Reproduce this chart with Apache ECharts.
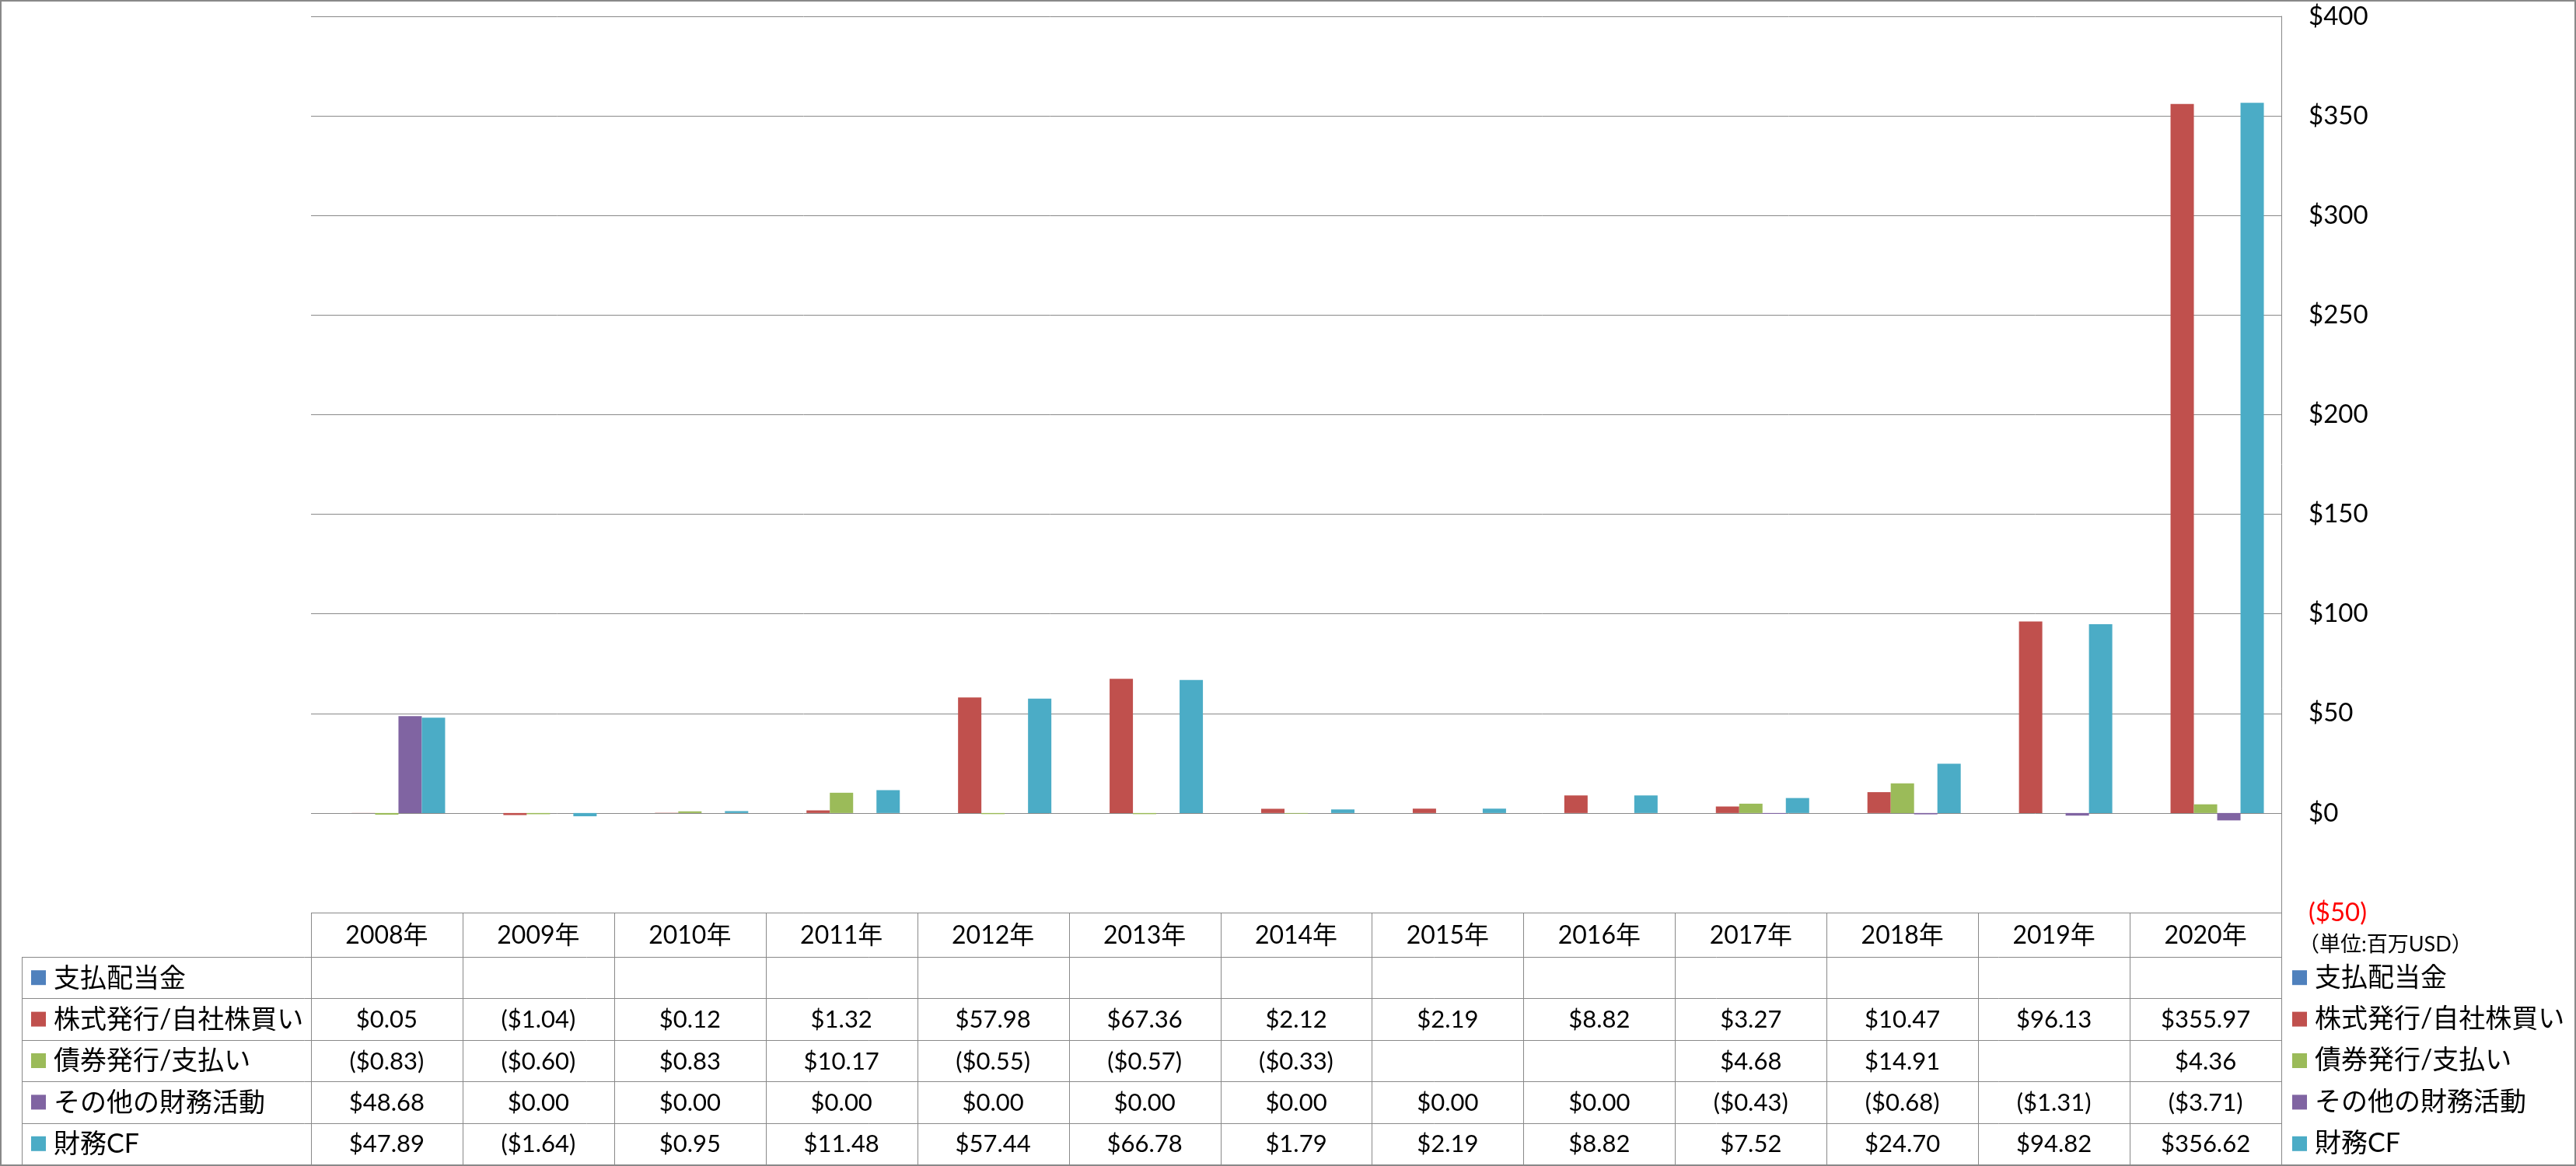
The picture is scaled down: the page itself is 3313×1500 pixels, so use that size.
<!DOCTYPE html>
<html>
<head>
<meta charset="utf-8">
<script src="https://cdn.jsdelivr.net/npm/echarts@6/dist/echarts.min.js"></script>
<style>
html,body{margin:0;padding:0;background:#ffffff;}
#c{width:3313px;height:1500px;}
</style>
</head>
<body>
<div id="c"></div>
<script>
// ---- data ----
const categories = ['2008年','2009年','2010年','2011年','2012年','2013年','2014年','2015年','2016年','2017年','2018年','2019年','2020年'];
const seriesNames = ['支払配当金','株式発行/自社株買い','債券発行/支払い','その他の財務活動','財務CF'];
const dividends   = [null,null,null,null,null,null,null,null,null,null,null,null,null];
const equity      = [0.05,-1.04,0.12,1.32,57.98,67.36,2.12,2.19,8.82,3.27,10.47,96.13,355.97];
const debt        = [-0.83,-0.60,0.83,10.17,-0.55,-0.57,-0.33,null,null,4.68,14.91,null,4.36];
const other       = [48.68,0,0,0,0,0,0,0,0,-0.43,-0.68,-1.31,-3.71];
const financingCF = [47.89,-1.64,0.95,11.48,57.44,66.78,1.79,2.19,8.82,7.52,24.70,94.82,356.62];
const axisMin = -50, axisMax = 400, axisStep = 50;
const unitNote = '（単位:百万USD）';

// ---- styling ----
const colors = ['#4F81BD','#C0504D','#9BBB59','#8064A2','#4BACC6'];
const lineColor = '#898989';
const FONT = "Lato, 'Noto Sans CJK JP', sans-serif";
const allSeries = [dividends, equity, debt, other, financingCF];

function fmtMoney(v){
  if (v === null || v === undefined) return '';
  const s = '$' + Math.abs(v).toFixed(2);
  return v < 0 ? '(' + s + ')' : s;
}

const chart = echarts.init(document.getElementById('c'), null, {renderer:'canvas'});

const gridLeft = 400, gridRight = 3313 - 2934, gridTop = 21, gridBottom = 1500 - 1174;
const headerTop = 1174, headerBottom = 1231, tableBottom = 1498;
const rowH = (tableBottom - headerBottom) / seriesNames.length;

chart.setOption({
  animation: false,
  backgroundColor: '#ffffff',
  color: colors,
  grid: {left: gridLeft, right: gridRight, top: gridTop, bottom: gridBottom, containLabel: false},
  legend: {
    orient: 'vertical',
    left: 2948, top: headerBottom,
    padding: 0,
    itemWidth: 19, itemHeight: 19, itemGap: 0,
    icon: 'rect',
    data: seriesNames,
    textStyle: {fontFamily: FONT, fontSize: 34, color: '#000', lineHeight: rowH, padding: [0,0,0,5]},
    selectedMode: false
  },
  xAxis: {
    type: 'category', data: categories,
    axisLine: {show: false}, axisTick: {show: false}, axisLabel: {show: false}, splitLine: {show: false}
  },
  yAxis: {
    type: 'value', position: 'right', min: axisMin, max: axisMax, interval: axisStep,
    axisLine: {show: true, lineStyle: {color: lineColor, width: 1}},
    axisTick: {show: false},
    splitLine: {show: true, lineStyle: {color: lineColor, width: 1}},
    axisLabel: {
      margin: 35, fontFamily: FONT, fontSize: 33,
      color: function(v){ return Number(v) < 0 ? '#FF0000' : '#000000'; },
      formatter: function(v){ return v < 0 ? '($' + Math.abs(v) + ')' : '$' + v; }
    }
  },
  series: seriesNames.map(function(n, i){
    return {name: n, type: 'bar', data: allSeries[i], barWidth: 30, barGap: '0%',
            itemStyle: {color: colors[i]}};
  })
});

// ---- data table drawn under the plot, aligned to the category axis ----
const c0 = chart.convertToPixel({xAxisIndex: 0}, 0);
const c1 = chart.convertToPixel({xAxisIndex: 0}, 1);
const band = c1 - c0;
const tableLeft = 28;
const colLeft = c0 - band / 2;
const colRight = colLeft + band * categories.length;

const g = [];
function hline(x1, x2, y){ g.push({type:'line', silent:true, shape:{x1:x1, y1:Math.round(y)+0.5, x2:x2, y2:Math.round(y)+0.5}, style:{stroke:lineColor, lineWidth:1}}); }
function vline(x, y1, y2){ g.push({type:'line', silent:true, shape:{x1:Math.round(x)+0.5, y1:y1, x2:Math.round(x)+0.5, y2:y2}, style:{stroke:lineColor, lineWidth:1}}); }

hline(colLeft, colRight, headerTop);
for (let r = 0; r <= seriesNames.length; r++) hline(tableLeft, colRight, headerBottom + r * rowH);
vline(tableLeft, headerBottom, tableBottom);
for (let k = 0; k <= categories.length; k++) vline(colLeft + k * band, headerTop, tableBottom);

categories.forEach(function(cat, k){
  const cx = chart.convertToPixel({xAxisIndex: 0}, k);
  g.push({type:'text', silent:true, style:{text: cat, x: cx, y: (headerTop + headerBottom) / 2 + 1,
    align:'center', verticalAlign:'middle', fontFamily: FONT, fontSize: 32, fill:'#000'}});
  allSeries.forEach(function(arr, r){
    const t = fmtMoney(arr[k]);
    if (t) g.push({type:'text', silent:true, style:{text: t, x: cx, y: headerBottom + (r + 0.5) * rowH + 1,
      align:'center', verticalAlign:'middle', fontFamily: FONT, fontSize: 31, fill:'#000'}});
  });
});

seriesNames.forEach(function(n, r){
  const cy = headerBottom + (r + 0.5) * rowH;
  g.push({type:'rect', silent:true, shape:{x:40, y:cy - 9.5, width:19, height:19}, style:{fill: colors[r]}});
  g.push({type:'text', silent:true, style:{text: n, x: 69, y: cy + 1, align:'left', verticalAlign:'middle',
    fontFamily: FONT, fontSize: 34, fill:'#000'}});
});

g.push({type:'text', silent:true, style:{text: unitNote, x: 2956, y: 1215, align:'left', verticalAlign:'middle',
  fontFamily: FONT, fontSize: 27, fill:'#000'}});

// outer chart border
g.push({type:'rect', silent:true, z: 100, shape:{x:1, y:1, width:3311, height:1498}, style:{fill:'none', stroke:lineColor, lineWidth:2}});

chart.setOption({graphic: g});
</script>
</body>
</html>
